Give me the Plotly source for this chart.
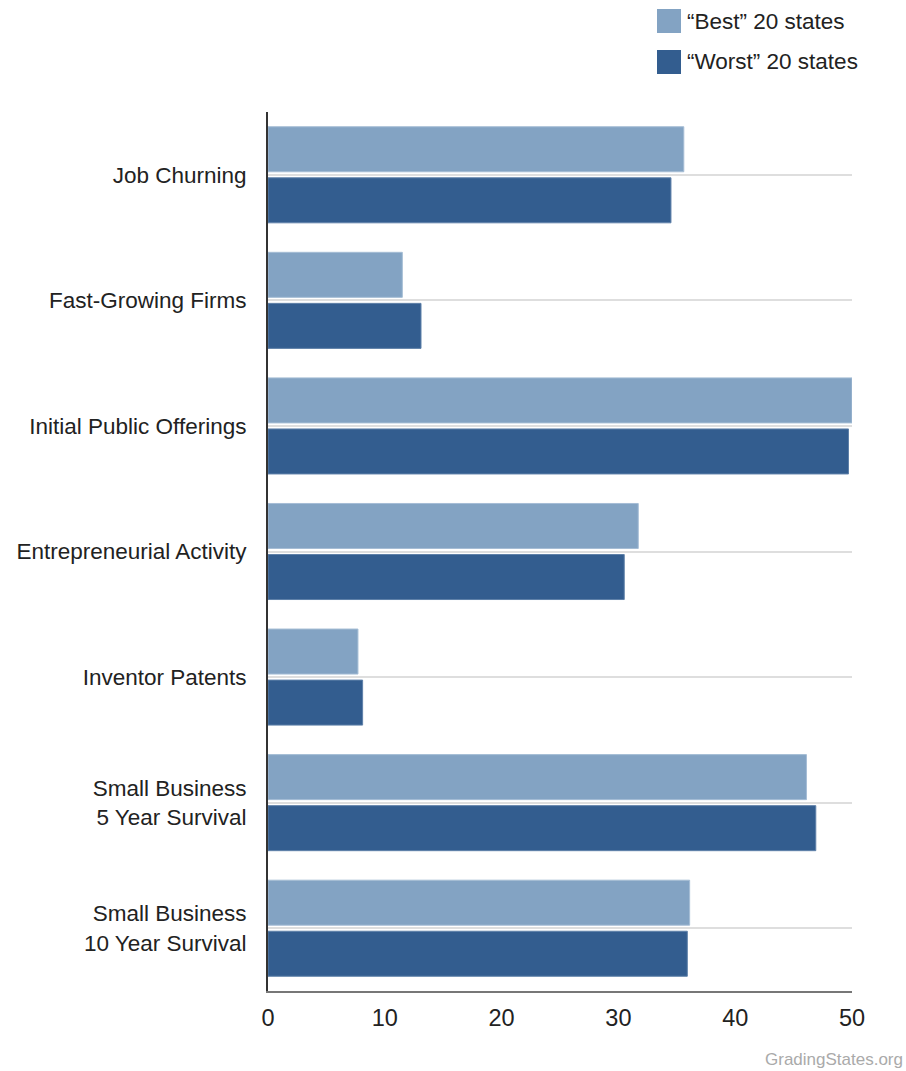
import plotly.graph_objects as go

categories = [
    "Job Churning",
    "Fast-Growing Firms",
    "Initial Public Offerings",
    "Entrepreneurial Activity",
    "Inventor Patents",
    "Small Business<br>5 Year Survival",
    "Small Business<br>10 Year Survival",
]
best_values = [35.6, 11.5, 50.0, 31.7, 7.7, 46.1, 36.1]
worst_values = [34.5, 13.1, 49.7, 30.5, 8.1, 46.9, 35.9]
series_names = ["\u201cBest\u201d 20 states", "\u201cWorst\u201d 20 states"]
x_ticks = [0, 10, 20, 30, 40, 50]

BEST_COLOR = "#83a3c3"
WORST_COLOR = "#335d8f"
FONT = "Liberation Sans, Arial, sans-serif"
W, H = 906, 1071
L, R, T, B = 268, 54, 112, 80

fig = go.Figure()
fig.add_trace(go.Bar(
    y=categories, x=best_values, orientation="h", name=series_names[0],
    marker=dict(color=BEST_COLOR, line=dict(color="#a5bdd5", width=1)),
    showlegend=False,
))
fig.add_trace(go.Bar(
    y=categories, x=worst_values, orientation="h", name=series_names[1],
    marker=dict(color=WORST_COLOR, line=dict(color="#5f81a9", width=1)),
    showlegend=False,
))

pw = W - L - R
ph = H - T - B

def px_x(px):
    return (px - L) / pw

def px_y(py):
    return (H - B - py) / ph

shapes = []
annotations = []
legend_rows = [(series_names[0], BEST_COLOR, 21), (series_names[1], WORST_COLOR, 62)]
for name, color, cy in legend_rows:
    shapes.append(dict(type="rect", xref="paper", yref="paper",
                       x0=px_x(657), x1=px_x(681), y0=px_y(cy - 12), y1=px_y(cy + 12),
                       fillcolor=color, line=dict(width=0)))
    annotations.append(dict(text=name, xref="paper", yref="paper",
                            x=px_x(685), y=px_y(cy), xanchor="left", yanchor="middle",
                            showarrow=False, font=dict(family=FONT, size=22.5, color="#222222")))

annotations.append(dict(text="GradingStates.org", xref="paper", yref="paper",
                        x=px_x(905), y=px_y(1059), xanchor="right", yanchor="middle",
                        showarrow=False, font=dict(family=FONT, size=17, color="#aaaaaa")))

fig.update_layout(
    width=W, height=H,
    margin=dict(l=L, r=R, t=T, b=B, pad=0),
    paper_bgcolor="white", plot_bgcolor="white",
    barmode="group", bargap=0.187, bargroupgap=0.118,
    font=dict(family=FONT, size=22.5, color="#222222"),
    shapes=shapes, annotations=annotations,
    xaxis=dict(range=[0, 50], tickvals=x_ticks, showgrid=False, zeroline=False,
               showline=True, linecolor="#777777", linewidth=2, automargin=False,
               tickfont=dict(size=23.5), ticks="", ticklabelstandoff=5),
    yaxis=dict(autorange="reversed", showgrid=True, gridcolor="#dedede", gridwidth=2,
               showline=True, linecolor="#333333", linewidth=2, zeroline=False,
               automargin=False,
               ticks="", ticklabelstandoff=15, tickfont=dict(size=22.5)),
)

fig.write_html("out.html")
